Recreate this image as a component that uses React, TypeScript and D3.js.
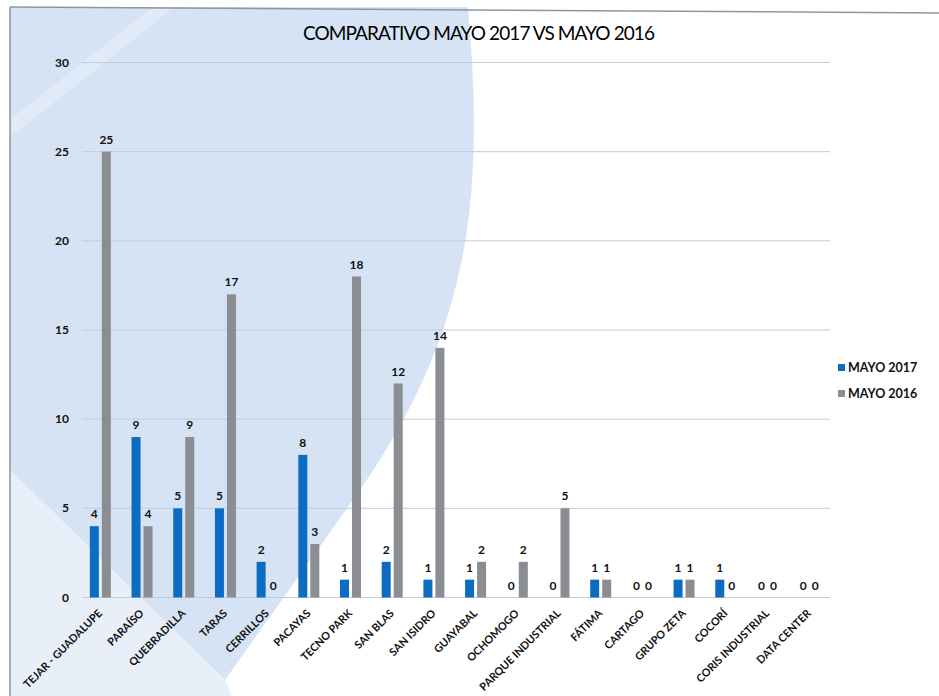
import * as d3 from "d3";

const categories = [
  "TEJAR - GUADALUPE",
  "PARAÍSO",
  "QUEBRADILLA",
  "TARAS",
  "CERRILLOS",
  "PACAYAS",
  "TECNO PARK",
  "SAN BLAS",
  "SAN ISIDRO",
  "GUAYABAL",
  "OCHOMOGO",
  "PARQUE INDUSTRIAL",
  "FÁTIMA",
  "CARTAGO",
  "GRUPO ZETA",
  "COCORÍ",
  "CORIS INDUSTRIAL",
  "DATA CENTER",
];
const mayo2017 = [4, 9, 5, 5, 2, 8, 1, 2, 1, 1, 0, 0, 1, 0, 1, 1, 0, 0];
const mayo2016 = [25, 4, 9, 17, 0, 3, 18, 12, 14, 2, 2, 5, 1, 0, 1, 0, 0, 0];
const seriesNames = ["MAYO 2017", "MAYO 2016"];
const yTicks = [0, 5, 10, 15, 20, 25, 30];

const colors = { "MAYO 2017": "#0b6cc2", "MAYO 2016": "#8a8d91" };
const font = "Lato, 'Open Sans', sans-serif";

const width = 939;
const height = 696;

export default function App() {
  const x = d3.scaleBand<string>().domain(categories).range([79.5, 830]);
  const y = d3.scaleLinear().domain([0, 30]).range([597.5, 62.5]);

  const series = [
    { name: "MAYO 2017", values: mayo2017 },
    { name: "MAYO 2016", values: mayo2016 },
  ];

  return (
    <svg
      width={width}
      height={height}
      style={{ position: "absolute", left: 0, top: 0, background: "#fff" }}
      fontFamily={font}
    >
      {/* scanned page background shapes */}
      <path d="M10,7 L468,7 C485,200 470,330 360,490 L225,680 L10,470 Z" fill="#d5e3f4" />
      <path d="M10,470 L225,680 L232,696 L10,696 Z" fill="#e8eff9" />
      <path d="M12,118 L150,9 L172,9 L12,136 Z" fill="#e3ecf8" opacity={0.8} />
      <line x1={10} y1={7} x2={939} y2={13} stroke="#8f969e" strokeWidth={1.5} />
      <line x1={10} y1={7} x2={10} y2={696} stroke="#8f969e" strokeWidth={1.5} />

      <text x={479} y={39.5} textAnchor="middle" fontSize={19} textLength={352} fill="#000">
        COMPARATIVO MAYO 2017 VS MAYO 2016
      </text>

      {yTicks.map((t) => (
        <g key={t}>
          <line x1={82} x2={830} y1={y(t)} y2={y(t)} stroke="#c2cbdc" strokeWidth={1} />
          <text x={69} y={y(t) + 4} textAnchor="end" fontSize={12} fontWeight="bold" fill="#111">
            {t}
          </text>
        </g>
      ))}

      {categories.map((c, i) => {
        const cx = (x(c) ?? 0) + x.bandwidth() / 2;
        const inner = d3.scaleBand<string>().domain(seriesNames).range([cx - 10.5, cx + 10.5]).paddingInner(0.25);
        return (
          <g key={c}>
            {series.map((s) => {
              const v = s.values[i];
              const bx = inner(s.name) ?? 0;
              return (
                <g key={s.name}>
                  {v > 0 && (
                    <rect x={bx} y={y(v)} width={inner.bandwidth()} height={y(0) - y(v)} fill={colors[s.name as keyof typeof colors]} />
                  )}
                  <text
                    x={bx + inner.bandwidth() / 2}
                    y={y(v) - 8}
                    textAnchor="middle"
                    fontSize={12}
                    fontWeight="bold"
                    fill="#111"
                  >
                    {v}
                  </text>
                </g>
              );
            })}
            <text
              transform={`translate(${cx + 2.5},${614}) rotate(-45)`}
              textAnchor="end"
              fontSize={10.8}
              fontWeight="bold"
              fill="#111"
            >
              {c}
            </text>
          </g>
        );
      })}

      {seriesNames.map((n, i) => (
        <g key={n} transform={`translate(838,${364 + i * 26})`}>
          <rect x={0} y={0} width={7} height={7} fill={colors[n as keyof typeof colors]} />
          <text x={10} y={8} fontSize={12.5} fontWeight="bold" fill="#111">
            {n}
          </text>
        </g>
      ))}
    </svg>
  );
}
